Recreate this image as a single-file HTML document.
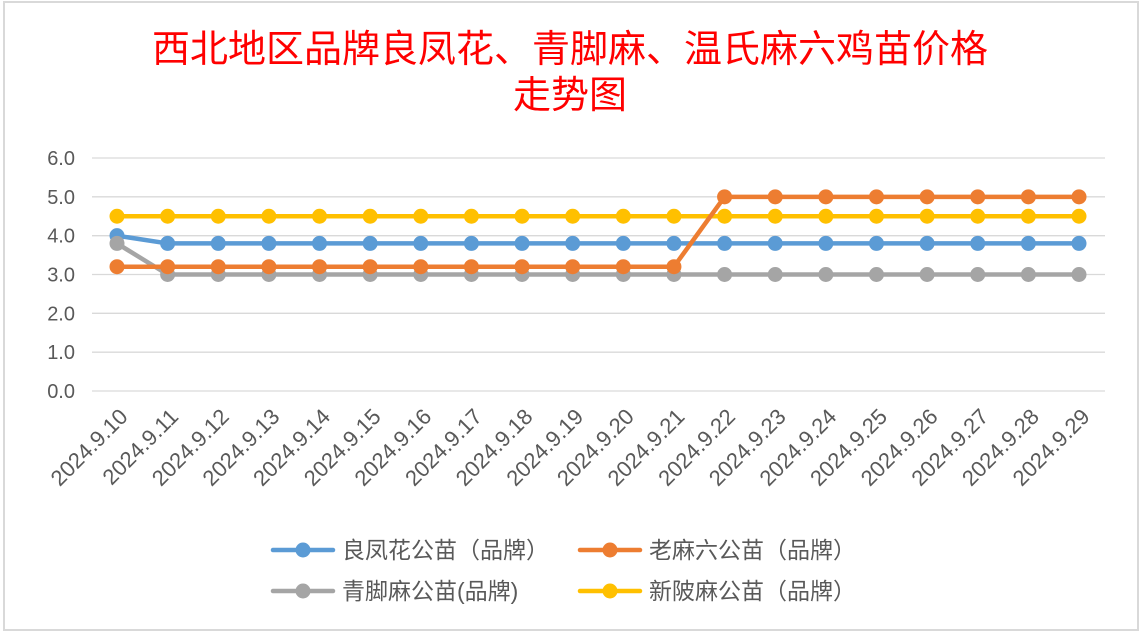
<!DOCTYPE html>
<html><head><meta charset="utf-8"><style>
body{margin:0;background:#fff;width:1141px;height:634px;overflow:hidden}
svg{display:block;font-family:"Liberation Sans","Noto Sans CJK SC",sans-serif}
</style></head><body>
<svg width="1141" height="634">
<rect x="4" y="2" width="1134" height="628" fill="#fff" stroke="#d9d9d9" stroke-width="2"/>
<text x="570" y="62" text-anchor="middle" font-size="38" fill="#ff0000" font-family="'Noto Sans CJK SC',sans-serif">西北地区品牌良凤花、青脚麻、温氏麻六鸡苗价格</text>
<text x="570" y="108" text-anchor="middle" font-size="38" fill="#ff0000" font-family="'Noto Sans CJK SC',sans-serif">走势图</text>
<g id="grid"></g><g id="xl"></g><g id="series"></g>
<g id="legend"></g>
</svg>
<script>
const categories=["2024.9.10","2024.9.11","2024.9.12","2024.9.13","2024.9.14","2024.9.15","2024.9.16","2024.9.17","2024.9.18","2024.9.19","2024.9.20","2024.9.21","2024.9.22","2024.9.23","2024.9.24","2024.9.25","2024.9.26","2024.9.27","2024.9.28","2024.9.29"];
const liangfenghua=[4.0,3.8,3.8,3.8,3.8,3.8,3.8,3.8,3.8,3.8,3.8,3.8,3.8,3.8,3.8,3.8,3.8,3.8,3.8,3.8];
const laomaliu=[3.2,3.2,3.2,3.2,3.2,3.2,3.2,3.2,3.2,3.2,3.2,3.2,5.0,5.0,5.0,5.0,5.0,5.0,5.0,5.0];
const qingjiaoma=[3.8,3.0,3.0,3.0,3.0,3.0,3.0,3.0,3.0,3.0,3.0,3.0,3.0,3.0,3.0,3.0,3.0,3.0,3.0,3.0];
const xinpima=[4.5,4.5,4.5,4.5,4.5,4.5,4.5,4.5,4.5,4.5,4.5,4.5,4.5,4.5,4.5,4.5,4.5,4.5,4.5,4.5];
const yTicks=[0,1,2,3,4,5,6];
const NS="http://www.w3.org/2000/svg";
const x0=117,x1=1079,yb=391,yt=158;
const xS=i=>x0+i*(x1-x0)/(categories.length-1);
const yS=v=>yb-v*(yb-yt)/6;
function mk(t,a,p){const e=document.createElementNS(NS,t);for(const k in a)e.setAttribute(k,a[k]);p.appendChild(e);return e;}
const grid=document.getElementById('grid');
yTicks.forEach(v=>{
 const l=mk('line',{x1:92,x2:1105,y1:yS(v),y2:yS(v),stroke:'#d9d9d9','stroke-width':1.3},grid);
 
 
 const t=mk('text',{x:75,y:yS(v)+7,'text-anchor':'end','font-size':20,fill:'#595959'},grid);
 t.textContent=v.toFixed(1);
 
 
});
const xl=document.getElementById('xl');
categories.forEach((c,i)=>{
 const x=xS(i)+12,y=418;
 const t=mk('text',{x:x,y:y,'text-anchor':'end','font-size':22,fill:'#595959',transform:`rotate(-45 ${x} ${y})`},xl);
 t.textContent=c;
 
 
});
const sers=[[liangfenghua,'#5b9bd5','liangfenghua'],[qingjiaoma,'#a5a5a5','qingjiaoma'],[xinpima,'#ffc000','xinpima'],[laomaliu,'#ed7d31','laomaliu']];
const sg=document.getElementById('series');
sers.forEach(([d,col,n])=>{
 const g=mk('g',{},sg);
 
 
 const p=mk('polyline',{points:d.map((v,i)=>xS(i)+','+yS(v)).join(' '),fill:'none',stroke:col,'stroke-width':4.5,'stroke-linejoin':'round'},g);
 
 
 d.forEach((v,i)=>{
  const c=mk('circle',{cx:xS(i),cy:yS(v),r:7.5,fill:col},g);
  
  
 });
});
const lg=document.getElementById('legend');
[['良凤花公苗（品牌）','#5b9bd5',273,550],['老麻六公苗（品牌）','#ed7d31',580,550],['青脚麻公苗(品牌)','#a5a5a5',273,591],['新陂麻公苗（品牌）','#ffc000',580,591]].forEach(([txt,col,x,y])=>{
 const g=mk('g',{},lg);
 
 
 mk('line',{x1:x,x2:x+60,y1:y,y2:y,stroke:col,'stroke-width':4.5,'stroke-linecap':'round'},g);
 mk('circle',{cx:x+30,cy:y,r:7.5,fill:col},g);
 const t=mk('text',{x:x+69,y:y+8,'font-size':23,fill:'#595959'},g);
 t.textContent=txt;
});
</script>
</body></html>
